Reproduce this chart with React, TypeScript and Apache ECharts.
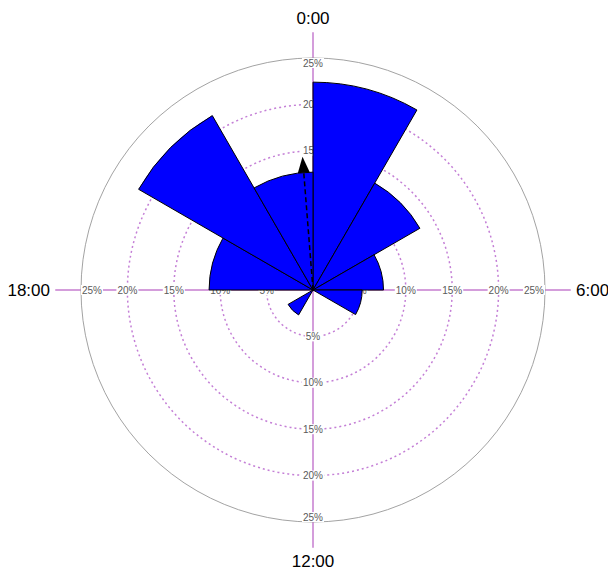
import React, { useEffect, useRef } from "react";
import * as echarts from "echarts";

// Two-hour bins, clockwise from midnight
const binLabels = [
  "0:00-2:00", "2:00-4:00", "4:00-6:00", "6:00-8:00", "8:00-10:00", "10:00-12:00",
  "12:00-14:00", "14:00-16:00", "16:00-18:00", "18:00-20:00", "20:00-22:00", "22:00-24:00",
];
// Share of events in each bin (%)
const binValues = [22.4, 13.3, 7.6, 5.3, 0, 0, 0, 3.1, 0, 11.2, 21.7, 12.7];

// Hour labels at the ends of the cross axes
const hourLabels = ["0:00", "6:00", "12:00", "18:00"];

// Radial tick values (%) and the compass directions they are printed along
const tickValues = [5, 10, 15, 20, 25];
const tickDirections = [0, 90, 180, 270];

// Mean vector: [length in %, direction in degrees clockwise from 0:00]
const meanVector = [14.4, 355.5];

const FONT = '"Liberation Sans", Arial, sans-serif';
const CX = 313;
const CY = 290;
const R = 232; // radius of the 25% circle
const ARM = 257; // length of the cross axes
const RMAX = 25;

export default function App() {
  const ref = useRef<HTMLDivElement>(null);

  useEffect(() => {
    if (!ref.current) return;
    const chart = echarts.init(ref.current, null, { renderer: "svg" });
    const center = [CX, CY];
    const armMax = (RMAX * ARM) / R;
    const ringMax = tickValues[tickValues.length - 2];
    const outerTick = tickValues[tickValues.length - 1];

    const tickData = tickDirections.flatMap((d) => tickValues.map((v) => [v, d]));

    const armStarts = [90, 0, 270, 180];

    const option: any = {
      animation: false,
      backgroundColor: "#ffffff",
      polar: [
        { center, radius: R }, // 0: bars + outer circle
        { center, radius: (R * ringMax) / RMAX }, // 1: dotted rings
        ...armStarts.map(() => ({ center, radius: ARM })), // 2-5: cross axes
        { center, radius: R }, // 6: tick labels and mean vector
      ],
      angleAxis: [
        {
          polarIndex: 0,
          type: "category",
          data: binLabels,
          startAngle: 90,
          clockwise: true,
          boundaryGap: true,
          z: 0,
          axisLine: { show: true, lineStyle: { color: "#a3a3a3", width: 1 } },
          axisTick: { show: false },
          axisLabel: { show: false },
          splitLine: { show: false },
        },
        { polarIndex: 1, type: "value", min: 0, max: 360, startAngle: 90, show: false },
        ...armStarts.map((s, i) =>
          i === 0
            ? {
                polarIndex: 2,
                type: "category",
                data: hourLabels,
                boundaryGap: false,
                startAngle: 90,
                clockwise: true,
                z: 0,
                axisLine: { show: false },
                axisTick: { show: false },
                splitLine: { show: false },
                axisLabel: {
                  show: true,
                  margin: 6,
                  color: "#000000",
                  fontSize: 17,
                  fontFamily: FONT,
                },
              }
            : { polarIndex: 2 + i, type: "value", min: 0, max: 360, startAngle: s, show: false }
        ),
        { polarIndex: 6, type: "value", min: 0, max: 360, startAngle: 90, clockwise: true, show: false },
      ],
      radiusAxis: [
        { polarIndex: 0, type: "value", min: 0, max: RMAX, show: false },
        {
          polarIndex: 1,
          type: "value",
          min: 0,
          max: ringMax,
          interval: 5,
          z: 0,
          axisLine: { show: false },
          axisTick: { show: false },
          axisLabel: { show: false },
          splitLine: {
            show: true,
            lineStyle: { color: "#c47fd6", width: 1.5, type: [2, 3] },
          },
        },
        ...armStarts.map((_, i) => ({
          polarIndex: 2 + i,
          type: "value",
          min: 0,
          max: armMax,
          z: 0,
          axisLine: { show: true, lineStyle: { color: "#d49ddb", width: 2 } },
          axisTick: { show: false },
          axisLabel: { show: false },
          splitLine: { show: false },
        })),
        { polarIndex: 6, type: "value", min: 0, max: RMAX, show: false },
      ],
      series: [
        {
          type: "custom",
          coordinateSystem: "polar",
          polarIndex: 6,
          z: 1,
          silent: true,
          data: tickData,
          renderItem: (_params: any, api: any) => {
            const v = api.value(0);
            const d = api.value(1);
            const p = api.coord([v, d]);
            let align = "center";
            let verticalAlign = "middle";
            if (v === outerTick) {
              if (d === 0) verticalAlign = "top";
              if (d === 90) align = "right";
              if (d === 180) verticalAlign = "bottom";
              if (d === 270) align = "left";
            }
            return {
              type: "text",
              x: p[0],
              y: p[1],
              style: {
                text: `${v}%`,
                fill: "#5a5a5a",
                fontSize: 10,
                fontFamily: FONT,
                align,
                verticalAlign,
                backgroundColor: "#ffffff",
                padding: [0, 1],
              },
            };
          },
        },
        {
          type: "bar",
          coordinateSystem: "polar",
          polarIndex: 0,
          z: 2,
          barCategoryGap: "0%",
          data: binValues,
          itemStyle: { color: "#0000ff", borderColor: "#000000", borderWidth: 1 },
        },
        {
          type: "custom",
          coordinateSystem: "polar",
          polarIndex: 6,
          z: 3,
          silent: true,
          data: [meanVector],
          renderItem: (_params: any, api: any) => {
            const len = api.value(0);
            const ang = api.value(1);
            const tip = api.coord([len, ang]);
            const c = api.coord([0, ang]);
            const dx = tip[0] - c[0];
            const dy = tip[1] - c[1];
            const L = Math.sqrt(dx * dx + dy * dy) || 1;
            const ux = dx / L;
            const uy = dy / L;
            const headLen = 16;
            const half = 6;
            const bx = tip[0] - ux * headLen;
            const by = tip[1] - uy * headLen;
            return {
              type: "group",
              children: [
                {
                  type: "line",
                  shape: { x1: c[0], y1: c[1], x2: bx, y2: by },
                  style: { stroke: "#000000", lineWidth: 1.5, lineDash: [5, 3] },
                },
                {
                  type: "polygon",
                  shape: {
                    points: [
                      [tip[0], tip[1]],
                      [bx - uy * half, by + ux * half],
                      [bx + uy * half, by - ux * half],
                    ],
                  },
                  style: { fill: "#000000" },
                },
              ],
            };
          },
        },
      ],
    };

    chart.setOption(option);
    return () => chart.dispose();
  }, []);

  return (
    <div
      ref={ref}
      style={{ position: "absolute", left: 0, top: 0, width: 608, height: 570 }}
    />
  );
}
